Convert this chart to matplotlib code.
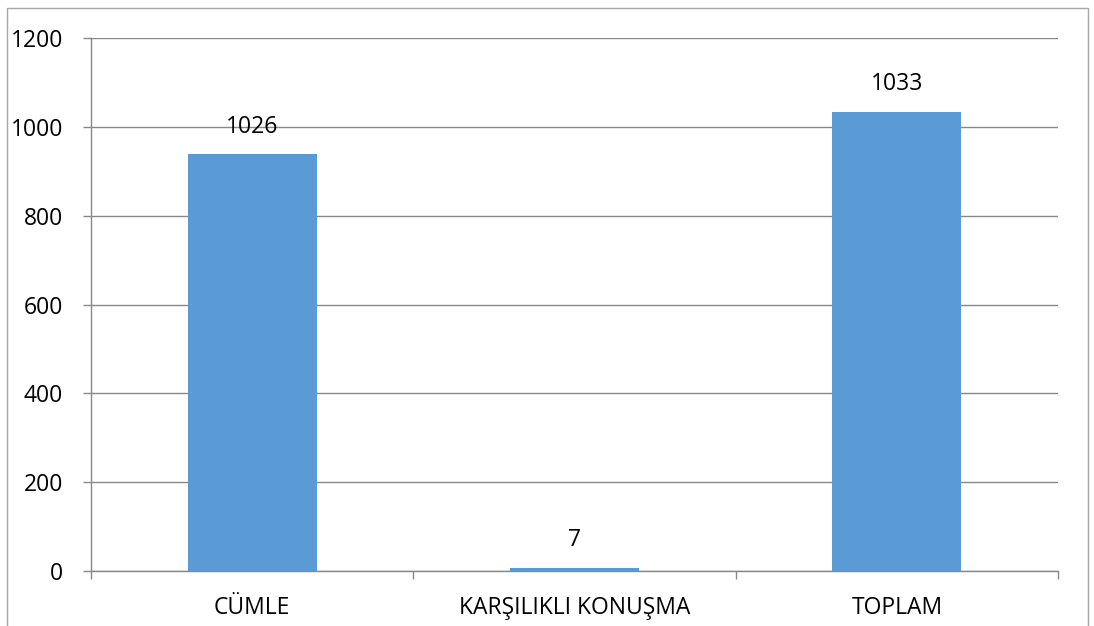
import matplotlib.pyplot as plt
from matplotlib.patches import Rectangle

categories = ["CÜMLE", "KARŞILIKLI KONUŞMA", "TOPLAM"]
bar_heights = [938, 7, 1033]        # bar heights as drawn in the picture
bar_labels = ["1026", "7", "1033"]  # data labels as printed
y_ticks = [0, 200, 400, 600, 800, 1000, 1200]

plt.rcParams['font.family'] = ['Open Sans', 'DejaVu Sans']

fig = plt.figure(figsize=(10.94, 6.26), dpi=100)
ax = fig.add_axes([91 / 1094, 55 / 626, 967 / 1094, 533 / 626])

grid_col = "#888888"
fs = 16.5
x = list(range(len(categories)))
ax.bar(x, bar_heights, width=0.4, color="#5B9BD5", zorder=3)
for xi, h, lab in zip(x, bar_heights, bar_labels):
    ax.annotate(lab, (xi, h), xytext=(0, 20), textcoords="offset points",
                ha="center", va="center", fontsize=fs, color="black")

ax.set_xlim(-0.5, 2.5)
ax.set_ylim(0, 1200)
ax.set_yticks(y_ticks)
ax.yaxis.grid(True, color=grid_col, linewidth=1.0, zorder=0)
ax.set_xticks(x)
ax.set_xticklabels(categories)
ax.set_xticks([-0.5, 0.5, 1.5, 2.5], minor=True)
ax.tick_params(axis="x", which="major", length=0, pad=18, labelsize=fs)
ax.tick_params(axis="x", which="minor", length=6, color=grid_col, width=1.0)
ax.tick_params(axis="y", length=6, color=grid_col, width=1.0, pad=14, labelsize=fs)

for s in ["top", "right"]:
    ax.spines[s].set_visible(False)
for s in ["left", "bottom"]:
    ax.spines[s].set_color(grid_col)
    ax.spines[s].set_linewidth(1.0)

# outer chart border
fig.patches.append(Rectangle((7 / 1094, -0.05), 1081 / 1094, 1.05 - 8 / 626,
                             transform=fig.transFigure, fill=False,
                             edgecolor="#a6a6a6", linewidth=1.0))

plt.savefig("out.png", dpi=100)
